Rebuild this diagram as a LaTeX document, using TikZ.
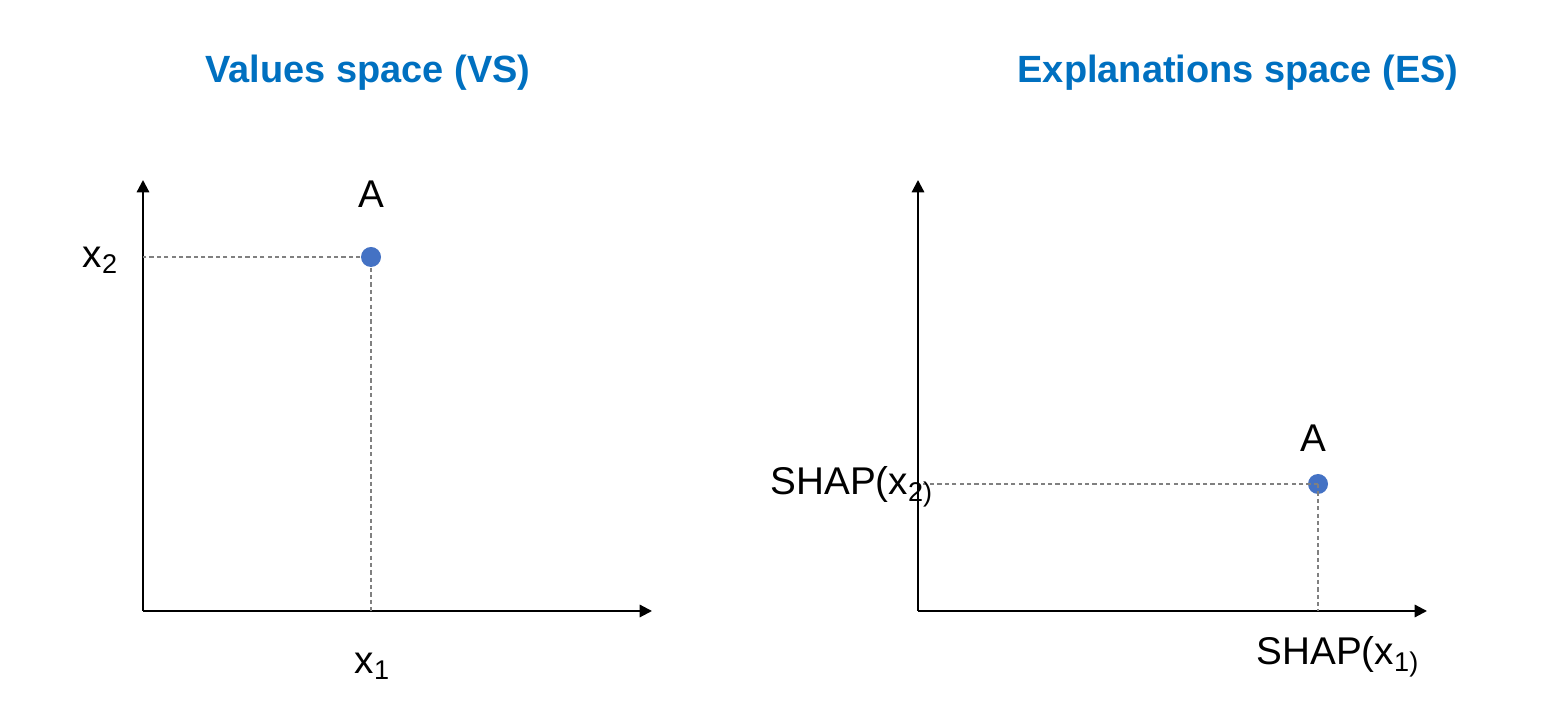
\documentclass[tikz,border=0pt]{standalone}
\usepackage{fontspec}
\setmainfont{Liberation Sans}
\usetikzlibrary{arrows.meta}
\definecolor{titleblue}{HTML}{0070C0}
\definecolor{dotblue}{HTML}{4472C4}

\begin{document}
\begin{tikzpicture}[axis/.style={line width=0.6pt,-{Triangle[length=3.5pt,width=3.5pt]}},
    guide/.style={color=gray,line width=0.35pt,dash pattern=on 1.2pt off 0.9pt},
    dot/.style={circle,fill=dotblue,inner sep=0pt,minimum size=0.2cm},
    lbl/.style={font=\fontsize{11pt}{13pt}\selectfont,inner sep=0pt,anchor=base west},
    title/.style={font=\fontsize{10.8pt}{13pt}\selectfont\bfseries,text=titleblue,inner sep=0pt,anchor=base}]
            \useasboundingbox (0,0) rectangle (15.42,7.02);
            % values space
            \coordinate (O1) at (1.43,0.91);
            \coordinate (Y1) at (1.43,5.22);
            \coordinate (X1) at (6.52,0.91);
            \node [title] (tvs) at (3.68,6.19) {Values space (VS)};
            \draw [axis] (O1) -- (Y1);
            \draw [axis] (O1) -- (X1);
            \node [dot] (A1) at (3.71,4.45) {};
            \draw [guide] (A1) -- (A1 -| O1);
            \draw [guide] (A1) -- (A1 |- O1);
            \node [lbl,anchor=base] (la1) at (3.71,4.94) {A};
            \node [lbl] (lx2) at (0.82,4.34) {x\textsubscript{2}};
            \node [lbl] (lx1) at (3.54,0.28) {x\textsubscript{1}};
            % explanations space
            \pgfmathsetmacro{\h}{7.75};
            \coordinate (O2) at (\h+1.43,0.91);
            \coordinate (Y2) at (\h+1.43,5.22);
            \coordinate (X2) at (\h+6.52,0.91);
            \node [title] (tes) at (12.38,6.19) {Explanations space (ES)};
            \draw [axis] (O2) -- (Y2);
            \draw [axis] (O2) -- (X2);
            \node [dot] (A2) at (13.18,2.18) {};
            \draw [guide] (A2.center) -- (A2.center -| O2);
            \draw [guide] (A2.center) -- (A2.center |- O2);
            \node [lbl,anchor=base] (la2) at (13.13,2.50) {A};
            \node [lbl] (ls2) at (7.70,2.07) {SHAP(x\textsubscript{2)}};
            \node [lbl] (ls1) at (12.56,0.37) {SHAP(x\textsubscript{1)}};
        \end{tikzpicture}
\end{document}
